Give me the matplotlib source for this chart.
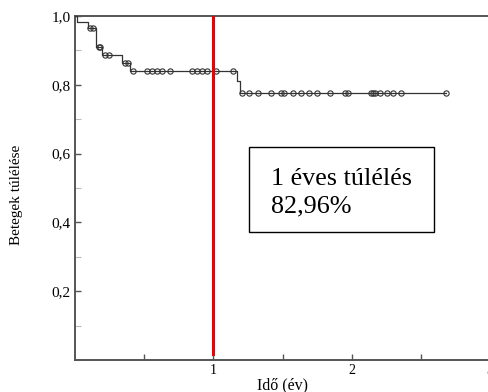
import matplotlib
matplotlib.use("Agg")
import matplotlib.pyplot as plt
from matplotlib.patches import Rectangle
from matplotlib.ticker import MultipleLocator

plt.rcParams['font.family'] = ['Liberation Serif', 'DejaVu Serif']

# Kaplan-Meier steps: time (years) and survival after each event
step_times = [0.0, 0.015, 0.095, 0.150, 0.195, 0.339, 0.399, 1.170, 1.190, 2.685]
step_surv = [1.0, 0.983, 0.966, 0.911, 0.887, 0.862, 0.840, 0.812, 0.777, 0.777]

# Censored observations (time, survival level)
cens_times = [0.110, 0.129, 0.170, 0.182, 0.218, 0.243, 0.363, 0.380, 0.418,
              0.519, 0.555, 0.591, 0.627, 0.687, 0.844, 0.880, 0.916, 0.952,
              1.020, 1.144,
              1.209, 1.260, 1.325, 1.414, 1.487, 1.510, 1.578, 1.633, 1.691,
              1.751, 1.843, 1.951, 1.973, 2.139, 2.153, 2.168, 2.204, 2.252,
              2.300, 2.360, 2.685]
cens_surv = [0.966, 0.966, 0.911, 0.911, 0.887, 0.887, 0.862, 0.862, 0.840,
             0.840, 0.840, 0.840, 0.840, 0.840, 0.840, 0.840, 0.840, 0.840,
             0.840, 0.840,
             0.777, 0.777, 0.777, 0.777, 0.777, 0.777, 0.777, 0.777, 0.777,
             0.777, 0.777, 0.777, 0.777, 0.777, 0.777, 0.777, 0.777, 0.777,
             0.777, 0.777, 0.777]

x_ticks = [0.5, 1, 1.5, 2, 2.5, 3]
x_labels = ['', '1', '', '2', '', '3']
y_ticks = [0.2, 0.4, 0.6, 0.8, 1.0]
y_labels = ['0,2', '0,4', '0,6', '0,8', '1,0']
marker_year = 1
annotation_lines = ["1 éves túlélés", "82,96%"]

fig = plt.figure(figsize=(4.88, 3.92), dpi=100)
ax = fig.add_axes([75 / 488, 32 / 392, 415 / 488, 344 / 392])

ax.step(step_times, step_surv, where='post', color='#333333', lw=0.9, zorder=3)
ax.plot(cens_times, cens_surv, linestyle='none', marker='o', markersize=3.8,
        markerfacecolor='none', markeredgecolor='#333333', markeredgewidth=0.8,
        zorder=4)

ax.axvline(marker_year, ymin=0.017, ymax=1.0, color='#ee0000', lw=2.2, zorder=5)

ax.set_xlim(0, 3)
ax.set_ylim(0, 1.0)

ax.set_xticks(x_ticks)
ax.set_xticklabels(x_labels)
ax.set_yticks(y_ticks)
ax.set_yticklabels(y_labels)
ax.yaxis.set_minor_locator(MultipleLocator(0.1))

ax.tick_params(axis='x', direction='in', length=4, width=1, color='#555555',
               labelsize=10, pad=3)
ax.tick_params(axis='y', direction='in', length=4, width=1, color='#555555',
               labelsize=11, pad=3)
ax.tick_params(axis='y', which='minor', direction='in', length=4, width=0.8,
               color='#bbbbbb')

for side in ['left', 'bottom', 'top']:
    ax.spines[side].set_color('#555555')
    ax.spines[side].set_linewidth(1.4)
ax.spines['right'].set_visible(False)

ax.set_xlabel("Idő (év)", fontsize=11.5, labelpad=0)
fig.text(17 / 488, 1 - 195 / 392, "Betegek túlélése", rotation=90,
         ha='center', va='center', fontsize=11)

# Annotation box with the one-year survival figure
ax.add_patch(Rectangle((0.419, 0.372), 0.446, 0.247, transform=ax.transAxes,
                       facecolor='white', edgecolor='black', linewidth=1.0,
                       zorder=6))
ax.text(0.472, 0.509, annotation_lines[0], transform=ax.transAxes,
        fontsize=18.8, ha='left', va='baseline', zorder=7)
ax.text(0.472, 0.430, annotation_lines[1], transform=ax.transAxes,
        fontsize=18.8, ha='left', va='baseline', zorder=7)

fig.savefig("out.png", dpi=100)
